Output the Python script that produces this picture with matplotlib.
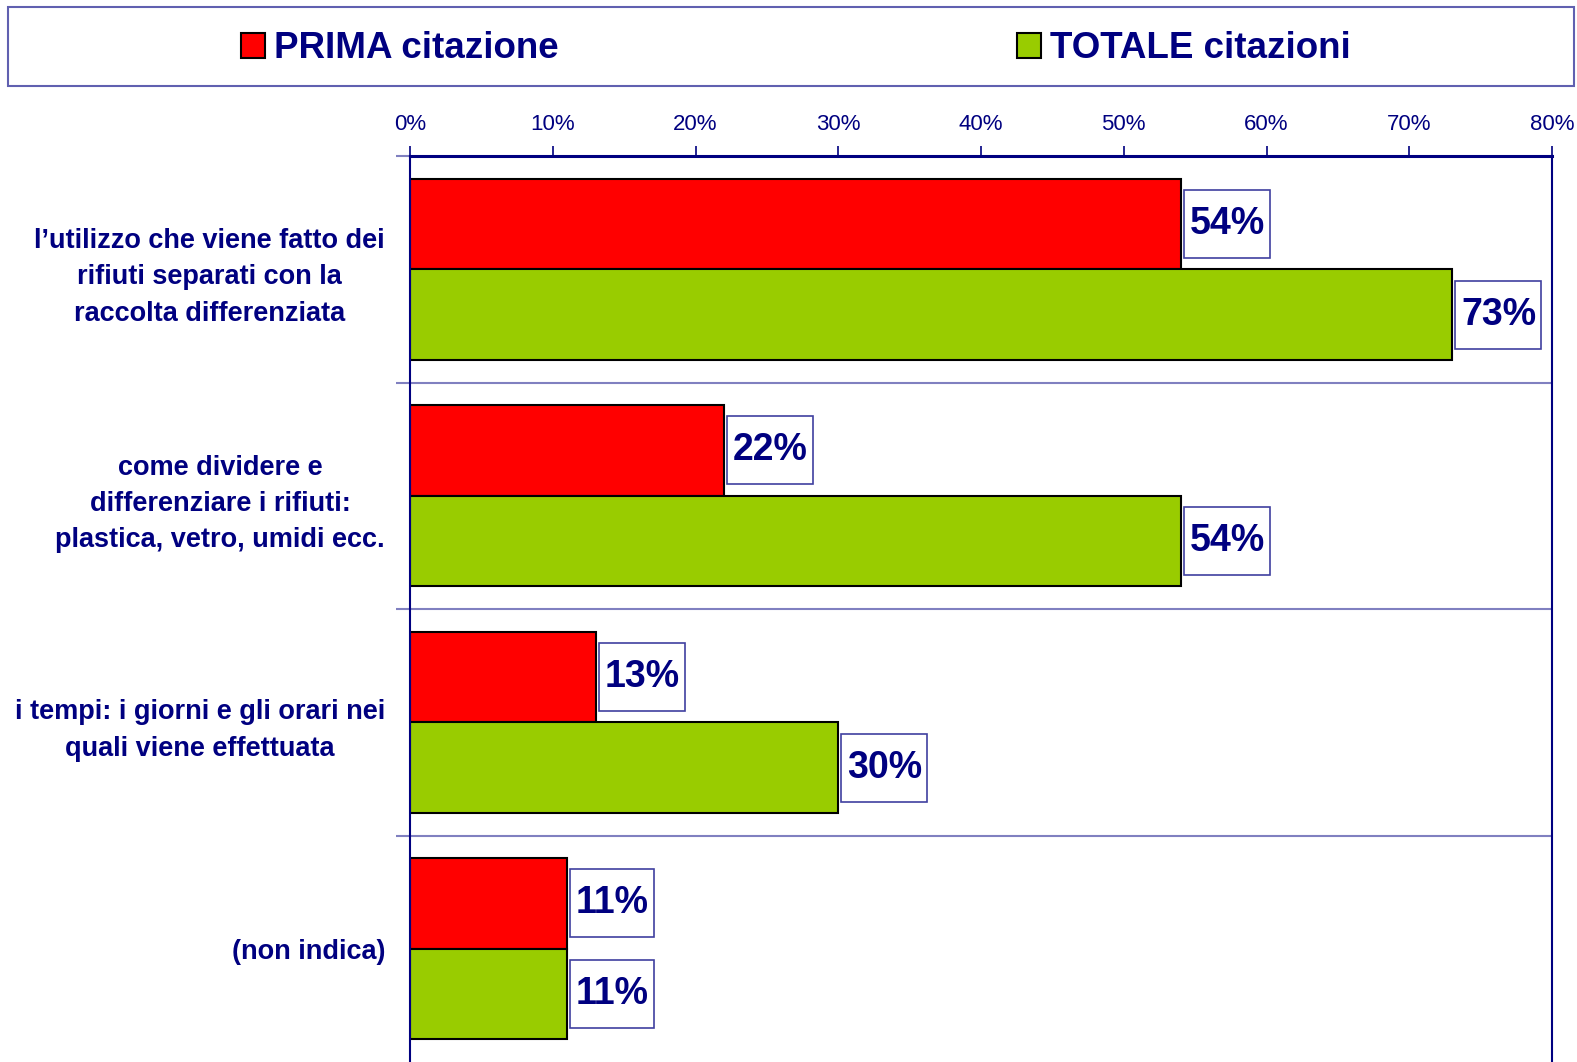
import matplotlib
matplotlib.use("Agg")
from matplotlib import pyplot as plt
from matplotlib.patches import Rectangle
import numpy as np

# data
categories = [
    "l\u2019utilizzo che viene fatto dei\nrifiuti separati con la\nraccolta differenziata",
    "come dividere e\ndifferenziare i rifiuti:\nplastica, vetro, umidi ecc.",
    "i tempi: i giorni e gli orari nei\nquali viene effettuata",
    "(non indica)",
]
prima = [54, 22, 13, 11]
totale = [73, 54, 30, 11]
series_names = ["PRIMA citazione", "TOTALE citazioni"]
xticks = [0, 10, 20, 30, 40, 50, 60, 70, 80]

NAVY = "#000080"
RED = "#FF0000"
GREEN = "#99CC00"
LIGHT = "#8080C0"

plt.rcParams['font.family'] = ['Liberation Sans', 'DejaVu Sans']

W, H = 1577, 1062
fig = plt.figure(figsize=(W / 100, H / 100), dpi=100)
ax = fig.add_axes([410 / W, 0.0, (1552 - 410) / W, 1 - 156 / H])

y = np.arange(len(categories))
bh = 0.4
bars1 = ax.barh(y - bh / 2, prima, height=bh, color=RED, edgecolor="black", linewidth=1.5)
bars2 = ax.barh(y + bh / 2, totale, height=bh, color=GREEN, edgecolor="black", linewidth=1.5)

ax.set_xlim(0, 80)
ax.set_ylim(len(categories) - 0.5, -0.5)

# top axis
ax.xaxis.tick_top()
ax.set_xticks(xticks)
ax.set_xticklabels([f"{v}%" for v in xticks], fontsize=16, color=NAVY)
ax.tick_params(axis="x", direction="out", length=7, width=1.2, color=NAVY, pad=8)

# category labels
ax.set_yticks(y)
ax.set_yticklabels(categories, fontsize=19.5, fontweight="bold", color=NAVY,
                   linespacing=1.52, multialignment="center")
ax.tick_params(axis="y", length=0, pad=18)
ax.set_yticks(np.arange(len(categories)) - 0.5, minor=True)
ax.tick_params(axis="y", which="minor", length=10, width=1.5, color=LIGHT)

for sp in ["top", "left", "right"]:
    ax.spines[sp].set_color(NAVY)
ax.spines["top"].set_linewidth(2.2)
ax.spines["left"].set_linewidth(1.5)
ax.spines["right"].set_linewidth(1.5)
ax.spines["bottom"].set_visible(False)

for b in np.arange(1, len(categories)) - 0.5:
    ax.axhline(b, color=LIGHT, linewidth=1.5, zorder=0)

# value labels with boxes
fig.canvas.draw()
renderer = fig.canvas.get_renderer()
inv = ax.transData.inverted()
for vals, offs in [(prima, -bh / 2), (totale, bh / 2)]:
    for i, v in enumerate(vals):
        xd, yd = ax.transData.transform((v, i + offs))
        t = ax.annotate(f"{v}%", xy=(v, i + offs), xytext=(3 + 6, 0),
                        textcoords="offset pixels", ha="left", va="center",
                        fontsize=27, fontweight="bold", color=NAVY)
        ext = t.get_window_extent(renderer)
        bx0 = xd + 3
        bw = ext.width + 11
        bhp = 68
        p0 = inv.transform((bx0, yd - bhp / 2))
        p1 = inv.transform((bx0 + bw, yd + bhp / 2))
        ax.add_patch(Rectangle((p0[0], p0[1]), p1[0] - p0[0], p1[1] - p0[1],
                               facecolor="white", edgecolor="#4040A0", linewidth=1.2,
                               clip_on=False, zorder=3))
        t.set_zorder(4)

# legend box
fig.patches.append(Rectangle((8 / W, 1 - 86 / H), 1566 / W, 79 / H, transform=fig.transFigure,
                             facecolor="white", edgecolor="#6060B0", linewidth=1.5))
handles = [Rectangle((0, 0), 1, 1, facecolor=RED, edgecolor="black", linewidth=1.5),
           Rectangle((0, 0), 1, 1, facecolor=GREEN, edgecolor="black", linewidth=1.5)]
leg = fig.legend(handles, series_names, loc="center", bbox_to_anchor=(796 / W, 1 - 49 / H),
                 ncol=2, frameon=False, prop={"size": 26.5, "weight": "bold"},
                 handlelength=0.65, handleheight=0.65, handletextpad=0.25, columnspacing=12.45)
for txt in leg.get_texts():
    txt.set_color(NAVY)

fig.savefig("out.png", dpi=100)
